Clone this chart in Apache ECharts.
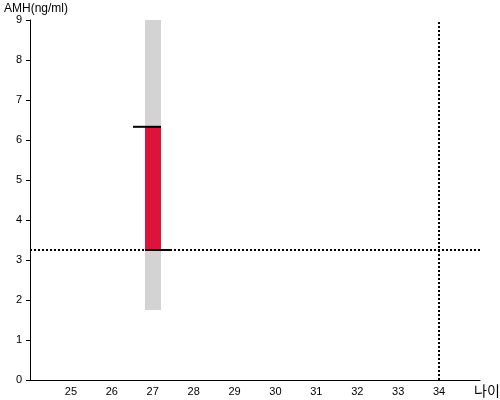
<!DOCTYPE html>
<html><head><meta charset="utf-8">
<script src="https://cdn.jsdelivr.net/npm/echarts@6/dist/echarts.min.js"></script>
<style>html,body{margin:0;padding:0;background:#fff}#c{width:500px;height:400px}</style>
</head><body><div id="c"></div>
<script>
var ageCategory = [27];
var rangeLow = [1.75];
var rangeHigh = [9];
var valueLow = [3.25];
var valueHigh = [6.33];
var refAmh = [3.25];
var refAge = [34];
var xTicks = [25,26,27,28,29,30,31,32,33,34];

var chart = echarts.init(document.getElementById('c'));
var font = 'Arial, Liberation Sans, sans-serif';
chart.setOption({
  animation: false,
  grid: {left: 30, right: 20, top: 20, bottom: 20, containLabel: false, outerBoundsMode: 'none'},
  xAxis: {
    type: 'value', min: 24, max: 35, interval: 1,
    name: '나이', nameLocation: 'end', nameGap: -6,
    nameTextStyle: {color: '#000', fontSize: 14, fontFamily: 'Noto Sans CJK KR', verticalAlign: 'top', padding: [4,0,0,0]},
    axisLine: {lineStyle: {color: '#000', width: 1}},
    axisTick: {show: false},
    splitLine: {show: false},
    axisLabel: {color: '#000', fontSize: 11, fontFamily: font, margin: 6,
      formatter: function(v){ return xTicks.indexOf(v) >= 0 ? String(v) : ''; }}
  },
  yAxis: {
    type: 'value', min: 0, max: 9, interval: 1,
    name: 'AMH(ng/ml)', nameLocation: 'end', nameGap: 4,
    nameTextStyle: {color: '#000', fontSize: 12, fontFamily: font, align: 'left', padding: [0,0,0,-26]},
    axisLine: {show: true, lineStyle: {color: '#000', width: 1}},
    axisTick: {show: true, length: 4, lineStyle: {color: '#000'}},
    splitLine: {show: false},
    axisLabel: {color: '#000', fontSize: 11, fontFamily: font, margin: 8}
  },
  series: [
    {
      type: 'custom',
      data: ageCategory.map(function(a, i){ return [a, rangeLow[i], rangeHigh[i], valueLow[i], valueHigh[i]]; }),
      renderItem: function(params, api){
        var x = api.value(0);
        var gTop = api.coord([x, api.value(2)]);
        var gBot = api.coord([x, api.value(1)]);
        var rBot = api.coord([x, api.value(3)]);
        var rTop = api.coord([x, api.value(4)]);
        var cx = Math.round(gTop[0]), hw = 8;
        return {type: 'group', children: [
          {type: 'rect', shape: {x: cx - hw, y: gTop[1], width: hw*2, height: gBot[1]-gTop[1]}, style: {fill: '#d3d3d3'}},
          {type: 'rect', shape: {x: cx - hw, y: rTop[1], width: hw*2, height: rBot[1]-rTop[1]}, style: {fill: '#dc143c'}},
          {type: 'line', shape: {x1: cx - 20, y1: rTop[1], x2: cx + hw, y2: rTop[1]}, style: {stroke: '#000', lineWidth: 2}},
          {type: 'line', shape: {x1: cx - hw, y1: rBot[1], x2: cx + 19, y2: rBot[1]}, style: {stroke: '#000', lineWidth: 2}}
        ]};
      },
      z: 2
    },
    {
      type: 'line', data: [], symbol: 'none', silent: true,
      markLine: {
        silent: true, symbol: 'none', label: {show: false},
        lineStyle: {color: '#000', width: 2, type: [2,2]},
        data: [{yAxis: refAmh[0]}, {xAxis: refAge[0]}]
      },
      z: 1
    }
  ]
});
</script></body></html>
